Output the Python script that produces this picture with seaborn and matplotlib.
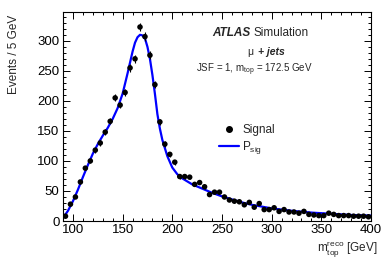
import numpy as np
import matplotlib
matplotlib.use('Agg')
import matplotlib.pyplot as plt
import seaborn as sns
from matplotlib.lines import Line2D
from matplotlib.ticker import MultipleLocator

# Signal MC: reconstructed top mass, 5 GeV bins
mass = np.arange(92.5, 400, 5)
events = [8, 28, 40, 65, 88, 100, 118, 130, 148, 166,
          205, 193, 214, 255, 270, 323, 307, 276, 227, 165,
          128, 111, 98, 74, 74, 73, 61, 64, 57, 44,
          48, 48, 40, 35, 33, 32, 27, 31, 23, 29,
          19, 19, 22, 16, 19, 15, 15, 13, 16, 11,
          10, 9, 9, 13, 11, 9, 9, 9, 8, 8,
          8, 7]
errors = 0.4 * np.sqrt(events)

# Fitted signal template P_sig
fit_mass = [90, 95, 100, 105, 110, 115, 120, 125, 130, 135, 140, 145, 150, 155,
            160, 162.5, 165, 167.5, 170, 172.5, 175, 177.5, 180, 182.5, 185,
            187.5, 190, 195, 200, 205, 210, 215, 220, 230, 240, 250, 260, 270,
            280, 290, 300, 320, 340, 360, 380, 400]
fit_events = [5, 17, 33, 52, 73, 93, 112, 128, 142, 155, 170, 188, 212, 246,
              282, 297, 306, 310, 309, 304, 290, 270, 243, 212, 178,
              154, 135, 108, 89, 78, 71, 66, 61, 54, 47, 41, 36, 31,
              27, 24, 21, 17, 14, 12, 10, 9]

sns.set_style('ticks')
plt.rcParams['font.family'] = ['Liberation Sans', 'DejaVu Sans']
plt.rcParams['mathtext.fontset'] = 'custom'
plt.rcParams['mathtext.rm'] = 'Liberation Sans'
plt.rcParams['mathtext.it'] = 'Liberation Sans:italic'
plt.rcParams['mathtext.bf'] = 'Liberation Sans:bold'

W, H = 390, 265
fig = plt.figure(figsize=(W / 100, H / 100), dpi=100)
ax = fig.add_axes([63 / W, 1 - 221 / H, 308 / W, 209 / H])

sns.lineplot(x=fit_mass, y=fit_events, color='#0000ff', lw=1.6, ax=ax, zorder=2)
ax.errorbar(mass, events, yerr=errors, fmt='none', ecolor='black', elinewidth=0.8, zorder=3)
sns.scatterplot(x=mass, y=events, color='black', s=16, edgecolor='none', ax=ax, zorder=4)

ax.set_xlim(90, 400)
ax.set_ylim(0, 348)
ax.xaxis.set_major_locator(MultipleLocator(50))
ax.xaxis.set_minor_locator(MultipleLocator(10))
ax.yaxis.set_major_locator(MultipleLocator(50))
ax.yaxis.set_minor_locator(MultipleLocator(10))
ax.tick_params(which='both', direction='in', top=True, right=True, width=0.7, colors='black')
ax.tick_params(which='major', length=5, labelsize=9.5, pad=2.5)
ax.tick_params(which='minor', length=2.5)
for s in ax.spines.values():
    s.set_linewidth(0.8)
    s.set_color('black')

ax.set_ylabel('Events / 5 GeV', fontsize=8.5, loc='top')
ax.yaxis.set_label_coords(-0.14, 0.985)
ax.set_xlabel(r'm$_{\mathrm{top}}^{\mathrm{reco}}$ [GeV]', fontsize=8.5, loc='right')
ax.xaxis.set_label_coords(1.023, -0.085)

def px(x, y):
    return x / W, 1 - y / H

fig.text(*px(250, 33), 'ATLAS', fontsize=8.5, fontweight='bold', fontstyle='italic',
         ha='right', va='center')
fig.text(*px(253, 33), 'Simulation', fontsize=8.5, va='center')
fig.text(*px(247, 52), '\u03bc', fontsize=7.5, va='center')
fig.text(*px(257.5, 52), '+ jets', fontsize=7.5, fontweight='bold', fontstyle='italic', va='center')
fig.text(*px(254, 70), r'JSF = 1, m$_{\mathrm{top}}$ = 172.5 GeV', fontsize=7, ha='center', va='center')

handles = [Line2D([], [], marker='o', color='black', ls='none', ms=4),
           Line2D([], [], color='#0000ff', lw=1.6)]
ax.legend(handles, ['Signal', r'P$_{\mathrm{sig}}$'], loc='upper left',
          bbox_to_anchor=(0.506, 0.462), frameon=False, fontsize=8.5,
          handlelength=1.7, handletextpad=0.3, borderpad=0, borderaxespad=0,
          labelspacing=0.25)

fig.savefig('out.png', dpi=100)
